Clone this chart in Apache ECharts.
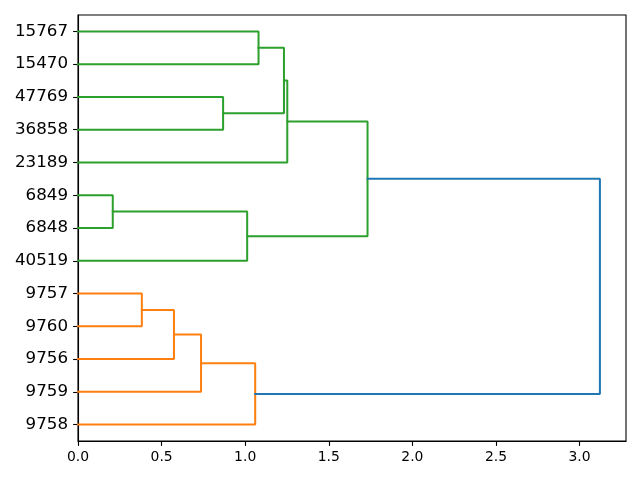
<!DOCTYPE html>
<html>
<head>
<meta charset="utf-8">
<script src="https://cdn.jsdelivr.net/npm/echarts@6/dist/echarts.min.js"></script>
<style>html,body{margin:0;padding:0;background:#fff}#c{width:640px;height:480px}</style>
</head>
<body>
<div id="c"></div>
<script>
// leaves, bottom to top
var leafLabels = ['9758','9759','9756','9760','9757','40519','6848','6849','23189','36858','47769','15470','15767'];
// merges (node ids: 0..12 leaves, 13.. merges in order)
var mergeLeft   = [4, 2, 1, 0, 7, 5, 10, 12, 20, 8, 22, 23];
var mergeRight  = [3, 13, 14, 15, 6, 17, 9, 11, 19, 21, 18, 16];
var mergeHeight = [0.382, 0.574, 0.736, 1.060, 0.208, 1.012, 0.868, 1.080, 1.232, 1.252, 1.732, 3.122];
var mergeColor  = ['C1','C1','C1','C1','C2','C2','C2','C2','C2','C2','C2','C0'];
var xTicks = [0, 0.5, 1.0, 1.5, 2.0, 2.5, 3.0];

var palette = {C0:'#1f77b4', C1:'#ff7f0e', C2:'#2ca02c'};
var n = leafLabels.length;
var pos = [], hgt = [];
for (var i = 0; i < n; i++) { pos.push(5 + 10*i); hgt.push(0); }
var series = [];
for (var k = 0; k < mergeLeft.length; k++) {
  var a = mergeLeft[k], b = mergeRight[k], h = mergeHeight[k];
  series.push({
    type: 'line', xAxisIndex: 0, yAxisIndex: 1, symbol: 'none', silent: true,
    lineStyle: {color: palette[mergeColor[k]], width: 2, cap: 'square'},
    data: [[hgt[a], pos[a]], [h, pos[a]], [h, pos[b]], [hgt[b], pos[b]]],
    animation: false
  });
  pos.push((pos[a] + pos[b]) / 2);
  hgt.push(h);
}
var maxH = Math.max.apply(null, mergeHeight) * 1.05;

var chart = echarts.init(document.getElementById('c'), null, {renderer: 'canvas'});
chart.setOption({
  animation: false,
  grid: {left: 78, right: 14, top: 15, bottom: 39, show: true, borderColor: '#000', borderWidth: 1.1, containLabel: false},
  xAxis: [{
    type: 'value', min: 0, max: maxH, interval: 0.5,
    axisLine: {show: true, onZero: false, lineStyle: {color: '#000', width: 1.1}},
    axisTick: {show: true, length: 4.9, lineStyle: {color: '#000', width: 1.1}},
    axisLabel: {
      color: '#000', fontSize: 13.9, fontFamily: 'DejaVu Sans', margin: 9,
      formatter: function (v) { return xTicks.indexOf(Math.round(v*10)/10) >= 0 ? v.toFixed(1) : ''; },
      showMaxLabel: false
    },
    splitLine: {show: false}
  }],
  yAxis: [{
    type: 'category', data: leafLabels, boundaryGap: true, position: 'left',
    axisLine: {show: true, lineStyle: {color: '#000', width: 1.1}},
    axisTick: {show: true, alignWithLabel: true, length: 4.9, lineStyle: {color: '#000', width: 1.1}},
    axisLabel: {color: '#000', fontSize: 16.7, fontFamily: 'DejaVu Sans', margin: 10},
    splitLine: {show: false}
  }, {
    type: 'value', min: 0, max: 10*n, show: false,
    splitLine: {show: false}
  }],
  series: series
});
</script>
</body>
</html>
